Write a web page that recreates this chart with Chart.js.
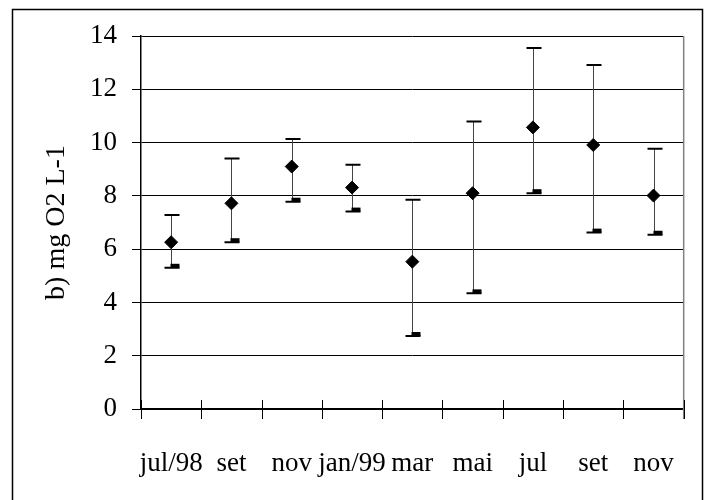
<!DOCTYPE html>
<html>
<head>
<meta charset="utf-8">
<script src="https://cdn.jsdelivr.net/npm/chart.js@4"></script>
<style>
  html, body { margin: 0; padding: 0; background: #fff; }
  #wrap { width: 706px; height: 500px; }
</style>
</head>
<body>
<div id="wrap"><canvas id="o2Chart" width="706" height="500"></canvas></div>
<script>
// --- DATA ---
const months = ['jul/98', 'set', 'nov', 'jan/99', 'mar', 'mai', 'jul', 'set', 'nov'];
const meanO2 = [6.26, 7.72, 9.10, 8.31, 5.53, 8.10, 10.57, 9.91, 8.01];
const highO2 = [7.28, 9.40, 10.13, 9.17, 7.85, 10.79, 13.55, 12.91, 9.77];
const lowO2  = [5.30, 6.26, 7.78, 7.41, 2.74, 4.34, 8.10, 6.62, 6.54];
const yTicks = [0, 2, 4, 6, 8, 10, 12, 14];

const serif = 'Liberation Serif';

// frame, x ticks and high-low bars
const extrasPlugin = {
    id: 'extras',
    beforeDraw(chart) {
        const ctx = chart.ctx;
        ctx.save();
        ctx.strokeStyle = '#000';
        ctx.lineWidth = 1.5;
        ctx.strokeRect(12.5, 9.5, 690, 520);
        ctx.restore();
    },
    beforeDatasetsDraw(chart) {
        const ctx = chart.ctx;
        const xs = chart.scales.x, ys = chart.scales.y;
        ctx.save();
        for (let i = 0; i < months.length; i++) {
            const x = Math.round(xs.getPixelForValue(i)) + 0.5;
            const yh = ys.getPixelForValue(highO2[i]);
            const yl = ys.getPixelForValue(lowO2[i]);
            ctx.strokeStyle = '#444';
            ctx.lineWidth = 1;
            ctx.beginPath();
            ctx.moveTo(x, yh);
            ctx.lineTo(x, yl);
            ctx.stroke();
            ctx.strokeStyle = '#000';
            ctx.lineWidth = 2;
            ctx.beginPath();
            ctx.moveTo(x - 7, yh);
            ctx.lineTo(x + 8, yh);
            ctx.moveTo(x - 7, yl);
            ctx.lineTo(x + 8, yl);
            ctx.stroke();
            ctx.fillStyle = '#000';
            ctx.fillRect(x - 1, yl - 4, 9, 4);
        }
        ctx.restore();
    },
    afterDraw(chart) {
        const ctx = chart.ctx;
        const xs = chart.scales.x;
        const area = chart.chartArea;
        const half = (xs.getPixelForValue(1) - xs.getPixelForValue(0)) / 2;
        ctx.save();
        // right border of plot area
        ctx.strokeStyle = '#808080';
        ctx.lineWidth = 1.5;
        ctx.beginPath();
        ctx.moveTo(area.right, area.top);
        ctx.lineTo(area.right, area.bottom + 10);
        ctx.stroke();
        // category ticks crossing the axis
        ctx.strokeStyle = '#000';
        ctx.lineWidth = 1;
        ctx.beginPath();
        for (let i = 0; i <= months.length; i++) {
            const x = Math.round(xs.getPixelForValue(0) - half + i * 2 * half) + 0.5;
            ctx.moveTo(x, area.bottom - 9);
            ctx.lineTo(x, area.bottom + 10);
        }
        ctx.stroke();
        ctx.restore();
    }
};

new Chart(document.getElementById('o2Chart'), {
    type: 'line',
    data: {
        labels: months,
        datasets: [{
            data: meanO2,
            showLine: false,
            pointStyle: 'rectRot',
            pointRadius: 6.5,
            pointHoverRadius: 6.5,
            pointBackgroundColor: '#000',
            pointBorderColor: '#000',
            pointBorderWidth: 1
        }]
    },
    options: {
        responsive: false,
        animation: false,
        events: [],
        layout: { padding: { top: 36, right: 22, left: 0, bottom: 0 } },
        plugins: { legend: { display: false }, tooltip: { enabled: false } },
        scales: {
            x: {
                type: 'category',
                offset: true,
                grid: { display: false },
                border: { display: true, color: '#000', width: 2 },
                ticks: {
                    color: '#000',
                    font: { family: serif, size: 27 },
                    padding: 31,
                    maxRotation: 0,
                    autoSkip: false
                },
                afterFit(scale) { scale.height = 91; }
            },
            y: {
                min: 0,
                max: 14,
                afterBuildTicks(scale) { scale.ticks = yTicks.map(v => ({ value: v })); },
                grid: { color: '#000', lineWidth: 1, tickLength: 9 },
                border: { display: true, color: '#000', width: 1.5 },
                ticks: {
                    color: '#000',
                    font: { family: serif, size: 27 },
                    padding: 15
                },
                title: {
                    display: true,
                    text: 'b) mg O2 L-1',
                    color: '#000',
                    font: { family: serif, size: 28 },
                    padding: { top: 40, bottom: 0 }
                },
                afterFit(scale) { scale.width = 141; }
            }
        }
    },
    plugins: [extrasPlugin]
});
</script>
</body>
</html>
